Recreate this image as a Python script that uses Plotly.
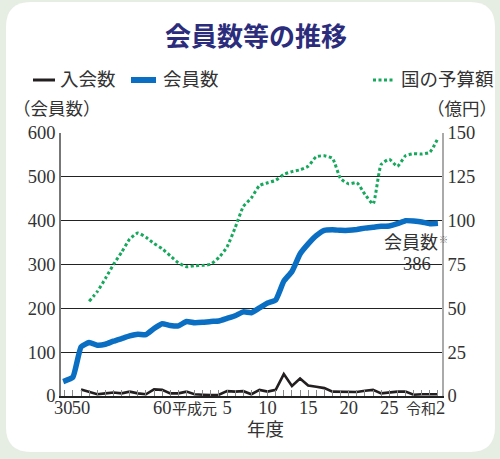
import re
import plotly.graph_objects as go

# ---------------- data ----------------
member_years = [1955, 1974] + list(range(1975, 2020))
members = [33, 43,
           112, 122, 116, 118, 125, 131, 137, 141, 140, 154,
           165, 161, 160, 170, 167, 168, 170, 171, 177, 183,
           192, 190, 201, 212, 219, 262, 284, 324, 347, 366,
           378, 379, 378, 378, 380, 383, 385, 387, 388, 393,
           400, 399, 397, 393, 394]

join_years = list(range(1975, 2020))
joins = [15, 10, 4, 6, 8, 6, 10, 6, 4, 15,
         14, 6, 6, 10, 4, 3, 2, 3, 11, 10,
         11, 4, 14, 10, 14, 50, 23, 40, 24, 21,
         18, 10, 10, 9, 9, 12, 14, 6, 8, 10,
         10, 3, 4, 4, 4]

budget_years = list(range(1976, 2020))
budget = [54, 59.5, 67, 75, 82, 89.5, 93, 90.5, 87, 84,
          80, 76, 73.7, 74.3, 74.5, 75.2, 79, 85, 96, 108,
          113, 120, 121.6, 123, 126.4, 128, 129, 131, 136.5, 137,
          135.5, 124, 121, 121.7, 115, 109.5, 132, 135, 131, 137,
          138.2, 138, 139, 147]

tick_years = [1955, 1975, 1985, 1989, 1993, 1998, 2003, 2008, 2013]
tick_text = ["30", "50", "60", "平成元", "5", "10", "15", "20", "25"]
last_tick_text = "令和2"

left_ticks = [0, 100, 200, 300, 400, 500, 600]
right_ticks = [0, 25, 50, 75, 100, 125, 150]


# axis break: years before 1974 are compressed into the left margin
def axis_pos(year):
    if year < 1974:
        return 1974 - (1974 - year) * (1.2 / 19)
    return year


def apos(years):
    return [axis_pos(y) for y in years]


def narrow_kanji(s, size=15):
    # kanji in the tick labels are set narrower than the digits
    return re.sub(r"([^\x00-\x7f]+)", rf"<span style='font-size:{size}px'>\1</span>", s)


# ---------------- layout helpers (pixel -> paper) ----------------
W, H = 500, 459
X0, X1, YB, YT = 61, 442, 396, 133


def px(x):
    return (x - X0) / (X1 - X0)


def py(y):
    return (YB - y) / (YB - YT)


SERIF = "Liberation Serif, Noto Sans CJK JP, serif"
JP = "Noto Sans CJK JP, sans-serif"
TXT = "#333333"

fig = go.Figure()

fig.add_trace(go.Scatter(
    x=apos(join_years), y=joins, mode="lines", name="入会数",
    line=dict(color="#231f20", width=2.6), showlegend=False))

fig.add_trace(go.Scatter(
    x=apos(member_years), y=members, mode="lines", name="会員数",
    line=dict(color="#0a6fc2", width=5.5, shape="spline", smoothing=0.4),
    showlegend=False))

fig.add_trace(go.Scatter(
    x=apos(budget_years), y=budget, mode="lines", name="国の予算額",
    yaxis="y2",
    line=dict(color="#16a85c", width=3, dash="3px,2.5px", shape="spline", smoothing=0.5),
    showlegend=False))

# rounded white card
l, r, t, b, rad = 6, 495, 2, 452, 25
card = (f"M {px(l + rad)} {py(t)} L {px(r - rad)} {py(t)} "
        f"Q {px(r)} {py(t)} {px(r)} {py(t + rad)} "
        f"L {px(r)} {py(b - rad)} Q {px(r)} {py(b)} {px(r - rad)} {py(b)} "
        f"L {px(l + rad)} {py(b)} Q {px(l)} {py(b)} {px(l)} {py(b - rad)} "
        f"L {px(l)} {py(t + rad)} Q {px(l)} {py(t)} {px(l + rad)} {py(t)} Z")

shapes = [
    dict(type="path", path=card, xref="paper", yref="paper",
         fillcolor="white", line=dict(width=0), layer="below"),
    # legend keys
    dict(type="line", xref="paper", yref="paper", x0=px(33), x1=px(55), y0=py(80), y1=py(80),
         line=dict(color="#231f20", width=3)),
    dict(type="line", xref="paper", yref="paper", x0=px(131), x1=px(156), y0=py(80), y1=py(80),
         line=dict(color="#0a6fc2", width=6)),
    dict(type="line", xref="paper", yref="paper", x0=px(373), x1=px(395), y0=py(80), y1=py(80),
         line=dict(color="#16a85c", width=3, dash="3px,2.5px")),
]

annotations = [
    dict(text="<b>会員数等の推移</b>", x=px(256), y=py(34), xref="paper", yref="paper",
         showarrow=False, font=dict(family=JP, size=26, color="#2b2d7c"),
         xanchor="center", yanchor="middle"),
    dict(text="入会数", x=px(58), y=py(80), xref="paper", yref="paper", showarrow=False,
         font=dict(family=SERIF, size=18.5, color=TXT), xanchor="left", yanchor="middle"),
    dict(text="会員数", x=px(161), y=py(80), xref="paper", yref="paper", showarrow=False,
         font=dict(family=SERIF, size=18.5, color=TXT), xanchor="left", yanchor="middle"),
    dict(text="国の予算額", x=px(399), y=py(80), xref="paper", yref="paper", showarrow=False,
         font=dict(family=SERIF, size=18.5, color=TXT), xanchor="left", yanchor="middle"),
    dict(text="（会員数）", x=px(57), y=py(109), xref="paper", yref="paper", showarrow=False,
         font=dict(family=SERIF, size=17.5, color=TXT), xanchor="center", yanchor="middle"),
    dict(text="（億円）", x=px(462), y=py(109), xref="paper", yref="paper", showarrow=False,
         font=dict(family=SERIF, size=17.5, color=TXT), xanchor="center", yanchor="middle"),
    dict(text="会員数", x=px(411), y=py(243), xref="paper", yref="paper", showarrow=False,
         font=dict(family=SERIF, size=18, color=TXT), xanchor="center", yanchor="middle"),
    dict(text="※", x=px(444), y=py(240), xref="paper", yref="paper", showarrow=False,
         font=dict(family=SERIF, size=9, color="#666"), xanchor="center", yanchor="middle"),
    dict(text="386", x=px(417), y=py(264), xref="paper", yref="paper", showarrow=False,
         font=dict(family=SERIF, size=18.5, color=TXT), xanchor="center", yanchor="middle"),
    dict(text=narrow_kanji(last_tick_text), x=px(447), y=py(408), xref="paper", yref="paper",
         showarrow=False, font=dict(family=SERIF, size=18.5, color=TXT),
         xanchor="right", yanchor="middle"),
    dict(text="年度", x=px(265), y=py(430), xref="paper", yref="paper", showarrow=False,
         font=dict(family=SERIF, size=18.5, color=TXT), xanchor="center", yanchor="middle"),
]

fig.update_layout(
    width=W, height=H,
    margin=dict(l=X0, r=W - X1, t=YT, b=H - YB, pad=0),
    paper_bgcolor="#e6eee3", plot_bgcolor="rgba(0,0,0,0)",
    showlegend=False,
    shapes=shapes, annotations=annotations,
    xaxis=dict(
        range=[1972.53, 2019.5], tickmode="array",
        tickvals=apos(tick_years), ticktext=[narrow_kanji(s) for s in tick_text], tickangle=0,
        ticks="", showgrid=False, zeroline=False, ticklabelstandoff=-6,
        showline=True, linecolor="#222", linewidth=1.5,
        tickfont=dict(family=SERIF, size=18.5, color=TXT),
        minor=dict(tick0=1975, dtick=1, ticks="inside", ticklen=6,
                   tickcolor="#888", tickwidth=1, showgrid=False),
    ),
    yaxis=dict(
        range=[0, 600], tickmode="array", tickvals=left_ticks,
        showgrid=True, gridcolor="#222", gridwidth=1.2, zeroline=False,
        showline=True, linecolor="#777", linewidth=1.5, ticks="",
        tickfont=dict(family=SERIF, size=18.5, color=TXT),
    ),
    yaxis2=dict(
        range=[0, 150], tickmode="array", tickvals=right_ticks,
        overlaying="y", side="right", showgrid=False, zeroline=False,
        showline=True, linecolor="#aaa", linewidth=1.5, ticks="",
        tickfont=dict(family=SERIF, size=18.5, color=TXT),
    ),
)

fig.write_html("out.html", config={"displayModeBar": False},
               post_script="document.body.style.margin='0';")
